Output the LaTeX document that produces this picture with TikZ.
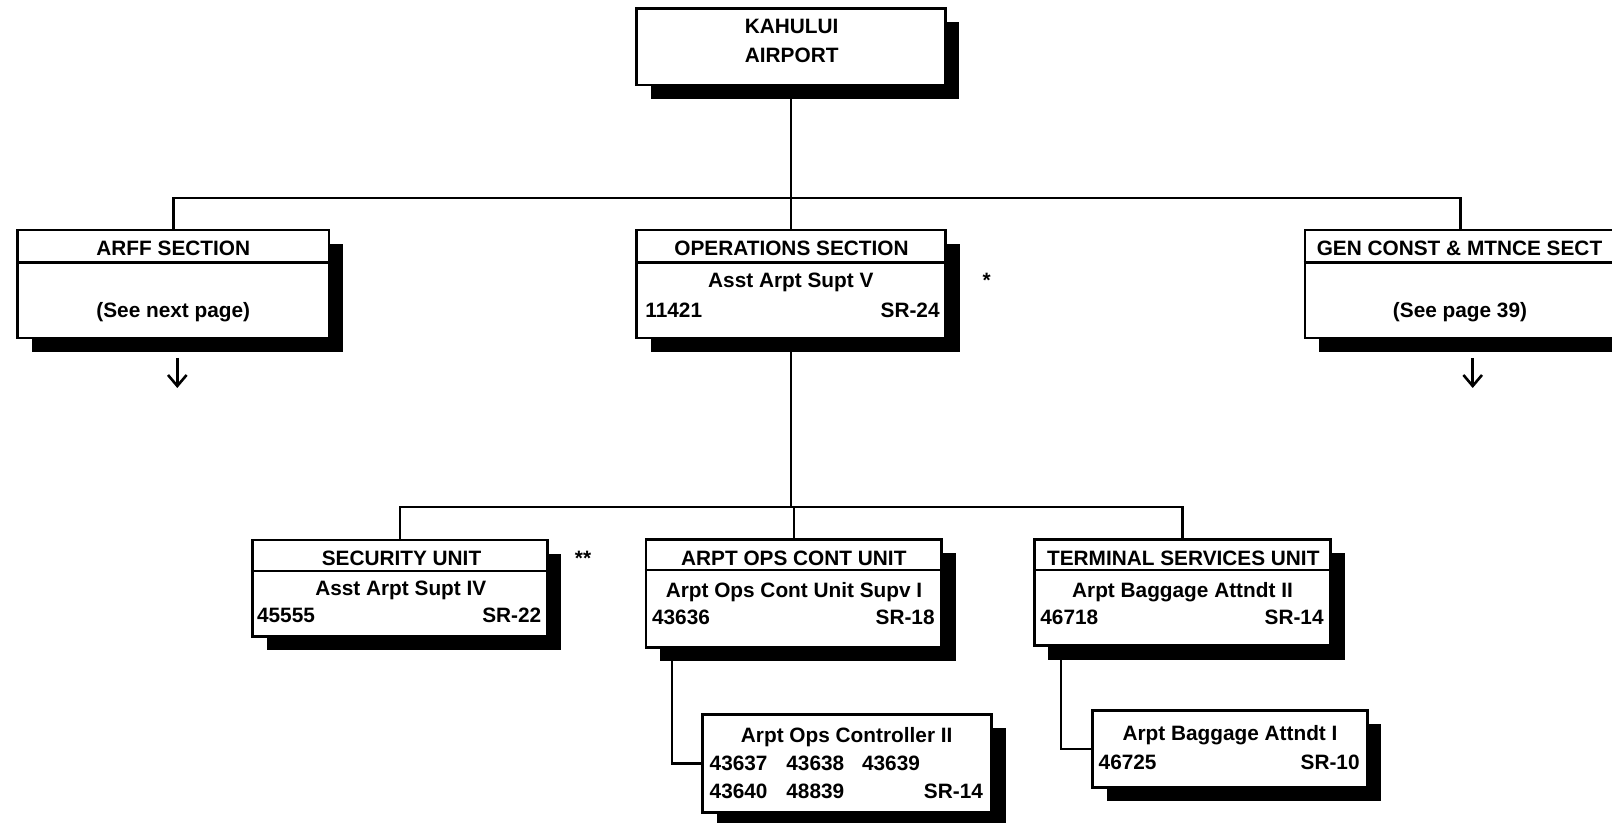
\documentclass[tikz,border=0pt]{standalone}
\usepackage{fontspec}
\setmainfont{Liberation Sans}
\usetikzlibrary{shadows,arrows.meta}
\begin{document}
\begin{tikzpicture}[x=0.5pt,y=-0.5pt,
  box/.style={draw, line width=1.3pt, fill=white, inner sep=0pt,
    drop shadow={shadow xshift=7pt, shadow yshift=-7pt, fill=black, opacity=1}},
  hdr/.style={inner sep=0pt, font=\fontsize{10.4}{12}\selectfont\bfseries,
    text height=7.45pt, text depth=0pt},
  txt/.style={hdr, yshift=0.8pt},
  conn/.style={line width=1.2pt},
  divl/.style={line width=1.2pt},
  darrow/.style={line width=1.3pt, -{Straight Barb[length=5.5pt,width=9.3pt,line width=1.3pt]}}]
\useasboundingbox (0,0) rectangle (1612,823);
\clip (0,0) rectangle (1612,823);

\coordinate (sbar) at (0,198);
\coordinate (ubar) at (0,507);
\coordinate (cj) at (672,0);
\coordinate (bj) at (1061,0);

% boxes
\node[box, minimum width=154.4pt, minimum height=38.4pt] (top) at (791,46.7) {};
\node[box, minimum width=155.7pt, minimum height=54pt] (arff) at (173.3,284) {};
\node[box, minimum width=154.5pt, minimum height=54pt] (ops) at (791,284) {};
\node[box, minimum width=155.7pt, minimum height=54pt] (gen) at (1460.5,284) {};
\node[box, minimum width=147.3pt, minimum height=48.2pt] (sec) at (400,588.2) {};
\node[box, minimum width=147.9pt, minimum height=54pt] (aoc) at (793.8,593.3) {};
\node[box, minimum width=148.2pt, minimum height=53.2pt] (tsu) at (1182.5,592.5) {};
\node[box, minimum width=144.5pt, minimum height=49pt] (ctrl) at (847.2,763.3) {};
\node[box, minimum width=137.3pt, minimum height=38.5pt] (bag) at (1230,748.8) {};

% dividers
\foreach \b in {arff,ops,gen}
  \draw[divl] ([yshift=-16.9pt]\b.north west) -- ([yshift=-16.9pt]\b.north east);
\foreach \b in {sec,aoc,tsu}
  \draw[divl] ([yshift=-16pt]\b.north west) -- ([yshift=-16pt]\b.north east);

% connectors
\draw[conn] (top.south) -- (ops.north);
\draw[conn] (arff.north) |- (gen.north |- sbar) -- (gen.north);
\draw[conn] (ops.south) -- (ops.south |- ubar);
\draw[conn] (sec.north) |- (tsu.north |- ubar) -- (tsu.north);
\draw[conn] (aoc.north) -- (aoc.north |- ubar);
\draw[conn] (aoc.south -| cj) |- (ctrl.west);
\draw[conn] (tsu.south -| bj) |- (bag.west);

% continuation arrows
\coordinate (a1s) at (177.3,358);
\coordinate (a1e) at (177.3,388);
\coordinate (a2s) at (1472.7,358);
\coordinate (a2e) at (1472.7,388);
\draw[darrow] (a1s) -- (a1e);
\draw[darrow] (a2s) -- (a2e);

% texts
\node[txt] (t1) at (791.7,27.8) {KAHULUI};
\node[txt] (t2) at (791.7,57) {AIRPORT};

\node[hdr] (t3) at (173.3,248) {ARFF SECTION};
\node[txt] (t4) at (173.3,312) {(See next page)};

\node[hdr] (t5) at (791.5,248) {OPERATIONS SECTION};
\node[txt] (t6) at (790.8,281.7) {Asst Arpt Supt V};
\node[txt, anchor=west] (t7) at (645,311.7) {11421};
\node[txt, anchor=east] (t8) at (940,311.7) {SR-24};
\node[txt] (t9) at (986.7,282) {*};

\node[hdr] (t10) at (1459.5,248) {GEN CONST \& MTNCE SECT};
\node[txt] (t11) at (1460,312) {(See page 39)};

\node[hdr] (t12) at (401.5,558) {SECURITY UNIT};
\node[txt] (t13) at (400.8,590) {Asst Arpt Supt IV};
\node[txt, anchor=west] (t14) at (256.7,616.7) {45555};
\node[txt, anchor=east] (t15) at (541.7,616.7) {SR-22};
\node[txt] (t16) at (583,560) {**};

\node[hdr] (t17) at (793.8,558) {ARPT OPS CONT UNIT};
\node[txt] (t18) at (794,591.7) {Arpt Ops Cont Unit Supv I};
\node[txt, anchor=west] (t19) at (651.7,619) {43636};
\node[txt, anchor=east] (t20) at (935,619) {SR-18};

\node[hdr] (t21) at (1183.3,558) {TERMINAL SERVICES UNIT};
\node[txt] (t22) at (1182.5,591.7) {Arpt Baggage Attndt II};
\node[txt, anchor=west] (t23) at (1040,619) {46718};
\node[txt, anchor=east] (t24) at (1324,619) {SR-14};

\node[txt] (t25) at (846.7,736.7) {Arpt Ops Controller II};
\node[txt, anchor=west] (t26) at (709.3,764.5) {43637};
\node[txt, anchor=west] (t27) at (786,764.5) {43638};
\node[txt, anchor=west] (t28) at (861.7,764.5) {43639};
\node[txt, anchor=west] (t29) at (709.3,792.5) {43640};
\node[txt, anchor=west] (t30) at (786,792.5) {48839};
\node[txt, anchor=east] (t31) at (983.3,792.5) {SR-14};

\node[txt] (t32) at (1230,735) {Arpt Baggage Attndt I};
\node[txt, anchor=west] (t33) at (1098.3,763.3) {46725};
\node[txt, anchor=east] (t34) at (1360,763.3) {SR-10};
\end{tikzpicture}
\end{document}
